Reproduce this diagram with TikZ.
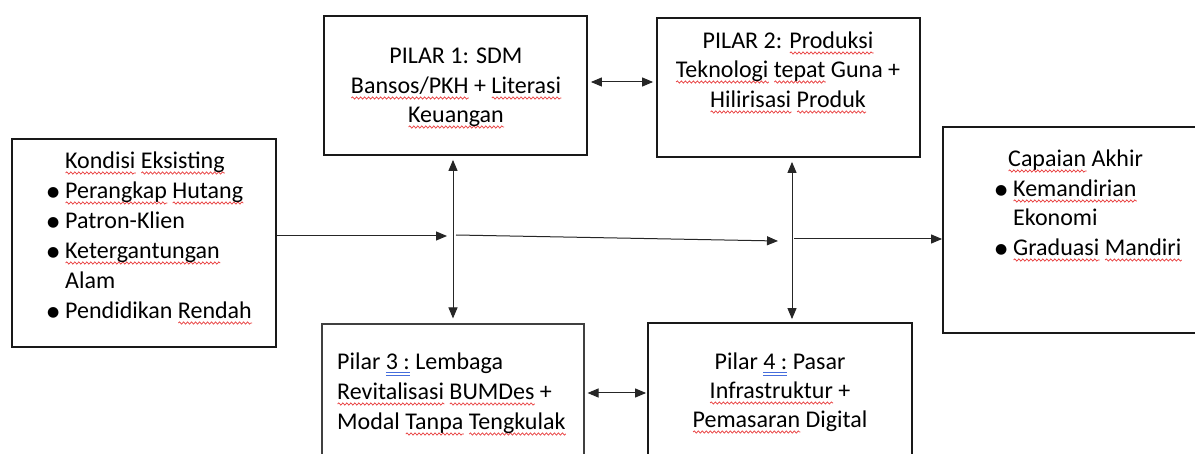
\documentclass[tikz,border=0pt]{standalone}
\usepackage{fontspec}
\setmainfont{Carlito}
\newfontfamily\dejavu{DejaVu Sans}
\usetikzlibrary{arrows.meta,decorations.pathmorphing}
\definecolor{wavered}{RGB}{232,60,60}
\definecolor{gramblue}{RGB}{70,110,220}
\newcommand\wv[1]{\setbox0\hbox{#1}\rlap{\smash{\tikz[baseline=0pt]\draw[wavered, line width=0.7pt, decorate, decoration={snake, amplitude=1.1pt, segment length=4pt}] (0pt,-4pt) -- (\the\wd0,-4pt);}}\box0\relax}
\newcommand\gdbl[1]{\setbox0\hbox{#1}\rlap{\color{gramblue}\rule[-3pt]{\wd0}{0.7pt}}\rlap{\color{gramblue}\rule[-5.5pt]{\wd0}{0.7pt}}\box0\relax}
\newcommand\bul{\llap{\makebox[18pt][l]{\raisebox{2pt}{\dejavu\fontsize{14}{14}\selectfont ●}}}}
\tikzset{
  box/.style={draw=black!90, line width=1.8pt, inner sep=0pt, fill=none},
  thinbox/.style={draw=black!75, line width=1.1pt, inner sep=0pt},
  txt/.style={inner sep=0pt, font=\fontsize{24}{29}\selectfont, text=black},
  arr/.style={-{Triangle[length=11pt,width=9pt]}, line width=1pt, draw=black!85},
  darr/.style={{Triangle[length=11pt,width=9pt]}-{Triangle[length=11pt,width=9pt]}, line width=1pt, draw=black!85},
}
\begin{document}
\begin{tikzpicture}[x=1pt,y=-1pt]
\useasboundingbox (0,0) rectangle (1195,454);
\fill[white] (0,0) rectangle (1195,454);
\clip (0,0) rectangle (1195,454);

% boxes
\node[box, minimum width=264pt, minimum height=208pt] (kond) at (144,243) {};
\node[box, minimum width=263pt, minimum height=139pt] (p1) at (455.5,85.5) {};
\node[box, minimum width=263pt, minimum height=139pt] (p2) at (788.5,87.5) {};
\node[box, minimum width=270pt, minimum height=206pt] (cap) at (1078,230) {};
\node[thinbox, minimum width=262pt, minimum height=146pt] (p3) at (453,397) {};
\node[box, minimum width=264pt, minimum height=147pt] (p4) at (780,396.5) {};

% Kondisi Eksisting
\node[txt, anchor=base west] (k0) at (65,169) {\wv{Kondisi} \wv{Eksisting}};
\node[txt, anchor=base west] (k1) at (65,199) {\bul\wv{Perangkap} \wv{Hutang}};
\node[txt, anchor=base west] (k2) at (65,229) {\bul Patron-Klien};
\node[txt, anchor=base west] (k3) at (65,259) {\bul\wv{Ketergantungan}};
\node[txt, anchor=base west] (k4) at (65,289) {Alam};
\node[txt, anchor=base west] (k5) at (65,319) {\bul Pendidikan \wv{Rendah}};

% Pilar 1
\node[txt, anchor=base] (p1a) at (456,64) {PILAR 1: SDM};
\node[txt, anchor=base] (p1b) at (456,94) {\wv{Bansos/PKH} + \wv{Literasi}};
\node[txt, anchor=base] (p1c) at (456,123) {\wv{Keuangan}};

% Pilar 2
\node[txt, anchor=base] (p2a) at (788,49) {PILAR 2: \wv{Produksi}};
\node[txt, anchor=base] (p2b) at (788,78) {\wv{Teknologi} \wv{tepat} Guna +};
\node[txt, anchor=base] (p2c) at (788,108) {\wv{Hilirisasi} \wv{Produk}};

% Pilar 3
\node[txt, anchor=base west] (p3a) at (337,370) {Pilar \gdbl{3 :} Lembaga};
\node[txt, anchor=base west] (p3b) at (337,400) {\wv{Revitalisasi} \wv{BUMDes} +};
\node[txt, anchor=base west] (p3c) at (337,430) {Modal \wv{Tanpa} \wv{Tengkulak}};

% Pilar 4
\node[txt, anchor=base] (p4a) at (780,370) {Pilar \gdbl{4 :} Pasar};
\node[txt, anchor=base] (p4b) at (780,399) {\wv{Infrastruktur} +};
\node[txt, anchor=base] (p4c) at (780,428) {\wv{Pemasaran} Digital};

% Capaian Akhir
\node[txt, anchor=base west] (c0) at (1008,167) {\wv{Capaian} Akhir};
\node[txt, anchor=base west] (c1) at (1013,197) {\bul\wv{Kemandirian}};
\node[txt, anchor=base west] (c2) at (1013,226) {Ekonomi};
\node[txt, anchor=base west] (c3) at (1013,256) {\bul\wv{Graduasi} \wv{Mandiri}};

% connector points
\coordinate (j1) at (447,236);
\coordinate (j2s) at (456,235);
\coordinate (j2e) at (778,241);
\coordinate (j3) at (794,239);
\coordinate (v1) at (453,0);
\coordinate (v2) at (792,0);
\coordinate (h1) at (0,82);
\coordinate (h2) at (0,393);

% arrows
\draw[arr] (kond.east |- j1) -- (j1);
\draw[arr] (j2s) -- (j2e);
\draw[arr] (j3) -- (cap.west |- j3);
\draw[darr, shorten <=4pt, shorten >=5pt] (v1 |- p1.south) -- (v1 |- p3.north);
\draw[darr, shorten <=4pt, shorten >=3pt] (v2 |- p2.south) -- (v2 |- p4.north);
\draw[darr, shorten <=3pt, shorten >=3pt] (p1.east |- h1) -- (p2.west |- h1);
\draw[darr, shorten <=3pt, shorten >=1pt] (p3.east |- h2) -- (p4.west |- h2);
\end{tikzpicture}
\end{document}
